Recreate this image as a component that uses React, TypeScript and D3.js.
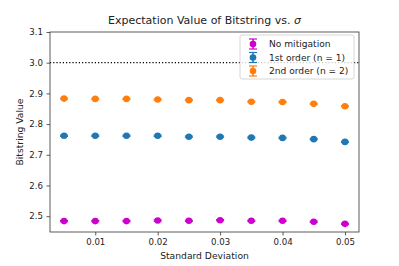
import React, { useEffect, useRef } from "react";
import * as d3 from "d3";

const sigmas = [0.005, 0.01, 0.015, 0.02, 0.025, 0.03, 0.035, 0.04, 0.045, 0.05];
const noMitigation = [2.484, 2.484, 2.484, 2.486, 2.485, 2.487, 2.485, 2.485, 2.482, 2.475];
const firstOrder = [2.762, 2.762, 2.762, 2.762, 2.759, 2.759, 2.756, 2.755, 2.751, 2.742];
const secondOrder = [2.883, 2.882, 2.882, 2.880, 2.878, 2.878, 2.873, 2.872, 2.866, 2.858];
const errNone = [0.002, 0.002, 0.002, 0.002, 0.002, 0.002, 0.002, 0.002, 0.002, 0.002];
const errFirst = [0.002, 0.002, 0.002, 0.002, 0.002, 0.002, 0.002, 0.002, 0.002, 0.002];
const errSecond = [0.002, 0.002, 0.002, 0.002, 0.002, 0.002, 0.002, 0.002, 0.002, 0.002];
const xTicks = [0.01, 0.02, 0.03, 0.04, 0.05];
const yTicks = [2.5, 2.6, 2.7, 2.8, 2.9, 3.0, 3.1];
const legendLabels = ["No mitigation", "1st order (n = 1)", "2nd order (n = 2)"];

const App = () => {
  const ref = useRef(null);

  useEffect(() => {
    const margin = { top: 32, right: 40, bottom: 34, left: 50 };
    const W = 399, H = 266;
    const width = W - margin.left - margin.right;
    const height = H - margin.top - margin.bottom;
    const font = "DejaVu Sans, sans-serif";

    const root = d3.select(ref.current);
    root.selectAll("*").remove();
    const svg = root
      .append("svg")
      .attr("width", W)
      .attr("height", H)
      .style("position", "absolute")
      .style("left", "0px")
      .style("top", "0px")
      .style("background", "#fff");

    const g = svg.append("g").attr("transform", `translate(${margin.left},${margin.top})`);

    const x = d3.scaleLinear().domain([0.00275, 0.05225]).range([0, width]);
    const y = d3.scaleLinear().domain([2.4485, 3.1]).range([height, 0]);

    // axes
    const xAxis = g
      .append("g")
      .attr("transform", `translate(0,${height})`)
      .call(d3.axisBottom(x).tickValues(xTicks).tickFormat(d3.format(".2f")).tickSize(3.5).tickPadding(3.5));
    const yAxis = g
      .append("g")
      .call(d3.axisLeft(y).tickValues(yTicks).tickFormat(d3.format(".1f")).tickSize(3.5).tickPadding(3.5));
    [xAxis, yAxis].forEach((a) => {
      a.select(".domain").remove();
      a.selectAll("text").attr("font-family", font).attr("font-size", 8.6).attr("fill", "#222");
      a.selectAll("line").attr("stroke", "#333").attr("stroke-width", 0.8);
    });

    // reference line
    g.append("line")
      .attr("x1", 0)
      .attr("x2", width)
      .attr("y1", y(3.0))
      .attr("y2", y(3.0))
      .attr("stroke", "#000")
      .attr("stroke-width", 1.2)
      .attr("stroke-dasharray", "1.2,2");

    const series = [
      { vals: noMitigation, err: errNone, color: "#cc00cc" },
      { vals: firstOrder, err: errFirst, color: "#1f77b4" },
      { vals: secondOrder, err: errSecond, color: "#ff7f0e" },
    ];

    series.forEach((s) => {
      const sg = g.append("g");
      sigmas.forEach((sx, i) => {
        const cx = x(sx);
        const lo = y(s.vals[i] - s.err[i]);
        const hi = y(s.vals[i] + s.err[i]);
        sg.append("line").attr("x1", cx).attr("x2", cx).attr("y1", lo).attr("y2", hi)
          .attr("stroke", s.color).attr("stroke-width", 1.5);
        [lo, hi].forEach((yy) =>
          sg.append("line").attr("x1", cx - 4).attr("x2", cx + 4).attr("y1", yy).attr("y2", yy)
            .attr("stroke", s.color).attr("stroke-width", 1.2)
        );
        sg.append("circle").attr("cx", cx).attr("cy", y(s.vals[i])).attr("r", 3.3).attr("fill", s.color);
      });
    });

    // frame
    g.append("rect")
      .attr("width", width)
      .attr("height", height)
      .attr("fill", "none")
      .attr("stroke", "#333")
      .attr("stroke-width", 0.8);

    // legend
    const lg = g.append("g").attr("transform", `translate(${width - 119},3)`);
    lg.append("rect")
      .attr("width", 114)
      .attr("height", 44)
      .attr("rx", 2)
      .attr("fill", "#fff")
      .attr("fill-opacity", 0.8)
      .attr("stroke", "#ccc")
      .attr("stroke-width", 0.8);
    legendLabels.forEach((lab, i) => {
      const yy = 9 + i * 13.5;
      const c = series[i].color;
      const mx = 13;
      lg.append("line").attr("x1", mx).attr("x2", mx).attr("y1", yy - 5).attr("y2", yy + 5)
        .attr("stroke", c).attr("stroke-width", 1.5);
      [yy - 5, yy + 5].forEach((v) =>
        lg.append("line").attr("x1", mx - 4).attr("x2", mx + 4).attr("y1", v).attr("y2", v)
          .attr("stroke", c).attr("stroke-width", 1.2)
      );
      lg.append("circle").attr("cx", mx).attr("cy", yy).attr("r", 3.3).attr("fill", c);
      lg.append("text")
        .attr("x", 29)
        .attr("y", yy + 3.2)
        .attr("font-family", font)
        .attr("font-size", 9.1)
        .attr("fill", "#222")
        .text(lab);
    });

    // title
    const title = svg
      .append("text")
      .attr("x", margin.left + width / 2)
      .attr("y", 24)
      .attr("text-anchor", "middle")
      .attr("font-family", font)
      .attr("font-size", 11)
      .attr("fill", "#222");
    title.append("tspan").text("Expectation Value of Bitstring vs. ");
    title.append("tspan").attr("font-style", "italic").text("σ");

    // axis labels
    svg.append("text")
      .attr("x", margin.left + width / 2)
      .attr("y", 259)
      .attr("text-anchor", "middle")
      .attr("font-family", font)
      .attr("font-size", 9.2)
      .attr("fill", "#222")
      .text("Standard Deviation");
    svg.append("text")
      .attr("transform", `translate(23,${margin.top + height / 2}) rotate(-90)`)
      .attr("text-anchor", "middle")
      .attr("font-family", font)
      .attr("font-size", 9.2)
      .attr("fill", "#222")
      .text("Bitstring Value");
  }, []);

  return <div ref={ref}></div>;
};

export default App;
